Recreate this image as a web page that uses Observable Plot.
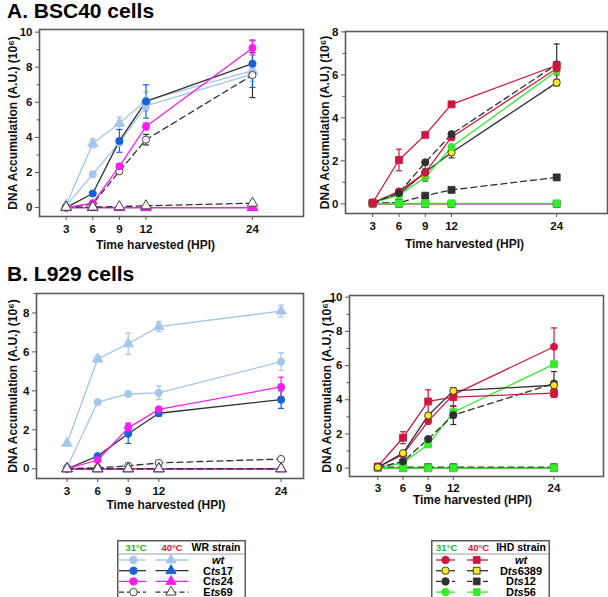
<!DOCTYPE html>
<html><head><meta charset="utf-8">
<script src="https://cdn.jsdelivr.net/npm/d3@7"></script>
<script src="https://cdn.jsdelivr.net/npm/@observablehq/plot@0.6"></script>
<style>
body{margin:0;background:#fff;font-family:"Liberation Sans",Arial,sans-serif;}
#root{position:relative;width:608px;height:597px;overflow:hidden;}
.title{position:absolute;font-weight:bold;font-size:21px;line-height:21px;color:#000;white-space:nowrap;}
</style></head><body><div id="root"></div>
<script>
// ---------- data ----------
const hours = [3, 6, 9, 12, 24];
const xTicks = [3, 6, 9, 12, 24];

// A. BSC40 cells — WR strain
const bscWR_wt31 = [0.1, 1.9, 3.7, 5.8, 7.6];
const bscWR_wt31_err = [0, 0.1, 0.15, 0.3, 0.4];
const bscWR_wt40 = [0.15, 3.65, 4.8, 6.1, 7.8];
const bscWR_wt40_err = [0, 0.25, 0.35, 0.5, 0.3];
const bscWR_Cts17_31 = [0, 0.8, 3.8, 6.05, 8.2];
const bscWR_Cts17_31_err = [0, 0.05, 0.65, 0.95, 1.35];
const bscWR_Cts17_40 = [0, 0, 0, 0, 0];
const bscWR_Cts24_31 = [0, 0.25, 2.35, 4.62, 9.1];
const bscWR_Cts24_31_err = [0, 0.05, 0.15, 0.2, 0.4];
const bscWR_Cts24_40 = [0, 0, 0, 0, 0];
const bscWR_Ets69_31 = [0, 0.2, 2.07, 3.87, 7.55];
const bscWR_Ets69_31_err = [0, 0, 0.1, 0.3, 1.28];
const bscWR_Ets69_40 = [0.02, 0.03, 0.05, 0.1, 0.25];

// A. BSC40 cells — IHD strain
const bscIHD_wt31 = [0.05, 0.58, 1.45, 3.1, 6.3];
const bscIHD_wt31_err = [0, 0.05, 0.4, 0.15, 0.3];
const bscIHD_wt40 = [0.05, 2.04, 3.21, 4.63, 6.45];
const bscIHD_wt40_err = [0, 0.5, 0.05, 0.05, 0.1];
const bscIHD_D6389_31 = [0.05, 0.45, 1.47, 2.39, 5.64];
const bscIHD_D6389_31_err = [0, 0.05, 0.15, 0.25, 0.15];
const bscIHD_D6389_40 = [0, 0, 0, 0, 0];
const bscIHD_Dts12_31 = [0.05, 0.5, 1.93, 3.24, 6.49];
const bscIHD_Dts12_31_err = [0, 0, 0.1, 0.1, 0.95];
const bscIHD_Dts12_40 = [0.05, 0.05, 0.38, 0.65, 1.23];
const bscIHD_Dts12_40_err = [0, 0, 0, 0, 0.1];
const bscIHD_Dts56_31 = [0.05, 0.4, 1.23, 2.65, 6.18];
const bscIHD_Dts56_40 = [0.02, 0.02, 0.02, 0.02, 0.02];

// B. L929 cells — WR strain
const lWR_wt31 = [0.08, 3.42, 3.84, 3.9, 5.5];
const lWR_wt31_err = [0, 0.1, 0.1, 0.35, 0.45];
const lWR_wt40 = [1.31, 5.64, 6.42, 7.3, 8.1];
const lWR_wt40_err = [0.1, 0.15, 0.55, 0.25, 0.3];
const lWR_Cts17_31 = [0, 0.65, 1.8, 2.85, 3.55];
const lWR_Cts17_31_err = [0, 0.05, 0.5, 0.15, 0.45];
const lWR_Cts17_40 = [0, 0, 0, 0, 0];
const lWR_Cts24_31 = [0, 0.45, 2.1, 3.05, 4.2];
const lWR_Cts24_31_err = [0, 0.05, 0.25, 0.1, 0.5];
const lWR_Cts24_40 = [0, 0, 0, 0, 0];
const lWR_Ets69_31 = [0, 0.05, 0.15, 0.3, 0.5];
const lWR_Ets69_40 = [0, 0, 0, 0, 0];

// B. L929 cells — IHD strain
const lIHD_wt31 = [0.05, 0.8, 2.75, 4.3, 7.1];
const lIHD_wt31_err = [0, 0.05, 0.15, 0.3, 1.1];
const lIHD_wt40 = [0.1, 1.78, 3.9, 4.15, 4.39];
const lIHD_wt40_err = [0, 0.35, 0.68, 0.55, 0.25];
const lIHD_D6389_31 = [0.05, 0.88, 3.08, 4.52, 4.85];
const lIHD_D6389_31_err = [0, 0.05, 0.1, 0.15, 0.1];
const lIHD_D6389_40 = [0, 0, 0, 0, 0];
const lIHD_Dts12_31 = [0.05, 0.39, 1.7, 3.1, 4.95];
const lIHD_Dts12_31_err = [0, 0, 0.1, 0.55, 0.7];
const lIHD_Dts12_40 = [0.05, 0.05, 0.05, 0.05, 0.05];
const lIHD_Dts12_40_err = [0, 0, 0, 0, 0.05];
const lIHD_Dts56_31 = [0.05, 0.3, 1.39, 3.27, 6.08];
const lIHD_Dts56_40 = [0, 0, 0, 0, 0];

// ---------- styles ----------
const LB = "#a3c6e9", BLUE = "#1763d6", MAG = "#fb1cf0", RED = "#d0173f",
      GRN = "#36ea2c", YEL = "#fbe91e", DK = "#303030";
const DASH = "6,4";
const WR = {
  wt31:    {symbol: "circle",   fill: LB,    mstroke: LB,  line: LB,  dash: null, err: LB},
  wt40:    {symbol: "triangle", fill: LB,    mstroke: LB,  line: LB,  dash: null, err: LB},
  Cts17_31:{symbol: "circle",   fill: BLUE,  mstroke: BLUE, line: DK, dash: null, err: BLUE},
  Cts17_40:{symbol: "triangle", fill: BLUE,  mstroke: BLUE, line: DK, dash: null, err: BLUE},
  Cts24_31:{symbol: "circle",   fill: MAG,   mstroke: MAG, line: MAG, dash: null, err: MAG},
  Cts24_40:{symbol: "triangle", fill: MAG,   mstroke: MAG, line: MAG, dash: null, err: MAG},
  Ets69_31:{symbol: "circle",   fill: "#fff", mstroke: DK, line: DK,  dash: DASH, err: DK},
  Ets69_40:{symbol: "triangle", fill: "#fff", mstroke: DK, line: DK,  dash: DASH, err: DK}
};
const IHD = {
  wt31:    {symbol: "circle", fill: RED, mstroke: RED, line: RED, dash: null, err: RED},
  wt40:    {symbol: "square", fill: RED, mstroke: RED, line: RED, dash: null, err: RED},
  D6389_31:{symbol: "circle", fill: YEL, mstroke: DK,  line: DK,  dash: null, err: DK},
  D6389_40:{symbol: "square", fill: YEL, mstroke: DK,  line: DK,  dash: null, err: DK},
  Dts12_31:{symbol: "circle", fill: DK,  mstroke: DK,  line: DK,  dash: DASH, err: DK},
  Dts12_40:{symbol: "square", fill: DK,  mstroke: DK,  line: DK,  dash: DASH, err: DK},
  Dts56_31:{symbol: "circle", fill: GRN, mstroke: GRN, line: GRN, dash: null, err: GRN},
  Dts56_31sq:{symbol: "square", fill: GRN, mstroke: GRN, line: GRN, dash: null, err: GRN},
  Dts56_40:{symbol: "square", fill: GRN, mstroke: GRN, line: GRN, dash: null, err: GRN}
};

const capSymbol = {draw(ctx) { ctx.moveTo(-3, 0); ctx.lineTo(3, 0); }};
const root = document.getElementById("root");
const FONT = "'Liberation Sans', Arial, Helvetica, sans-serif";
const YLABEL = "DNA Accumulation (A.U.) (10\u2076)";
const XLABEL = "Time harvested (HPI)";

function panel(spec) {
  const [L, T, R, B] = spec.frame;
  const mL = 48, mT = 6, mR = 4, mB = 48;
  const marks = [];
  for (const s of spec.series) {
    const st = spec.styles[s.style];
    const data = hours.map((h, i) => ({x: h, y: s.v[i], e: s.e ? s.e[i] : 0}));
    marks.push(Plot.line(data, {x: "x", y: "y", stroke: st.line, strokeWidth: 1.3, strokeDasharray: st.dash}));
  }
  for (const s of spec.series) {
    const st = spec.styles[s.style];
    const data = hours.map((h, i) => ({x: h, y: s.v[i], e: s.e ? s.e[i] : 0})).filter(d => d.e > 0);
    marks.push(Plot.ruleX(data, {x: "x", y1: d => d.y - d.e, y2: d => d.y + d.e, stroke: st.err, strokeWidth: 1.2}));
    marks.push(Plot.dot(data, {x: "x", y: d => d.y + d.e, symbol: capSymbol, fill: "none", stroke: st.err, strokeWidth: 1.2}));
    marks.push(Plot.dot(data, {x: "x", y: d => d.y - d.e, symbol: capSymbol, fill: "none", stroke: st.err, strokeWidth: 1.2}));
  }
  for (const s of spec.series) {
    const st = spec.styles[s.style];
    const data = hours.map((h, i) => ({x: h, y: s.v[i]}));
    marks.push(Plot.dot(data, {x: "x", y: "y", symbol: st.symbol, r: st.symbol === "circle" ? 3.6 : 3.9,
      fill: st.fill, stroke: st.mstroke, strokeWidth: 0.9}));
  }
  marks.push(Plot.axisY({ticks: spec.yMinor, tickSize: 2.5, tickFormat: () => "", label: null, labelArrow: "none", stroke: "#555"}));
  marks.push(Plot.axisY({ticks: spec.yTicks, tickSize: 4, tickPadding: 3, label: null, labelArrow: "none", fontSize: 11.5, stroke: "#555"}));
  marks.push(Plot.axisY({ticks: [], label: YLABEL, labelArrow: "none", labelAnchor: "center", labelOffset: spec.yLabelOffset, fontSize: 12}));
  marks.push(Plot.axisX({ticks: xTicks, tickSize: 4, tickPadding: spec.xTickPad ?? 4, label: null, labelArrow: "none", fontSize: 11.5, stroke: "#555"}));
  marks.push(Plot.text([XLABEL], {text: d => d, frameAnchor: "bottom", dx: spec.xLabelDx, dy: spec.xLabelDy,
    fontSize: 12, fontWeight: "bold", fill: "#111"}));
  marks.push(Plot.frame({stroke: "#5a5a5a", strokeWidth: 1.6}));
  const svg = Plot.plot({
    width: mL + (R - L) + mR, height: mT + (B - T) + mB,
    marginLeft: mL, marginTop: mT, marginRight: mR, marginBottom: mB,
    x: {domain: spec.xDomain, label: null}, y: {domain: spec.yDomain, label: null},
    style: {fontFamily: FONT, fontWeight: "bold", color: "#111", background: "transparent", overflow: "visible"},
    marks
  });
  svg.style.position = "absolute";
  svg.style.left = (L - mL) + "px";
  svg.style.top = (T - mT) + "px";
  root.appendChild(svg);
}

panel({
  frame: [39, 29, 303, 216], xDomain: [0, 29.75], yDomain: [-0.51, 10.15],
  yTicks: [0, 2, 4, 6, 8, 10], yMinor: [1, 3, 5, 7, 9], yLabelOffset: 31, xLabelDx: -16, xLabelDy: 32, styles: WR,
  series: [
    {style: "wt31", v: bscWR_wt31, e: bscWR_wt31_err},
    {style: "wt40", v: bscWR_wt40, e: bscWR_wt40_err},
    {style: "Ets69_31", v: bscWR_Ets69_31, e: bscWR_Ets69_31_err},
    {style: "Cts17_31", v: bscWR_Cts17_31, e: bscWR_Cts17_31_err},
    {style: "Cts24_31", v: bscWR_Cts24_31, e: bscWR_Cts24_31_err},
    {style: "Cts17_40", v: bscWR_Cts17_40},
    {style: "Cts24_40", v: bscWR_Cts24_40},
    {style: "Ets69_40", v: bscWR_Ets69_40}
  ]
});
panel({
  frame: [345, 31, 607, 213], xDomain: [-0.1, 29.8], yDomain: [-0.45, 8.02],
  yTicks: [0, 2, 4, 6, 8], yMinor: [1, 3, 5, 7], yLabelOffset: 25, xLabelDx: -12, xLabelDy: 34, styles: IHD,
  series: [
    {style: "Dts12_40", v: bscIHD_Dts12_40, e: bscIHD_Dts12_40_err},
    {style: "D6389_40", v: bscIHD_D6389_40},
    {style: "Dts56_40", v: bscIHD_Dts56_40},
    {style: "D6389_31", v: bscIHD_D6389_31, e: bscIHD_D6389_31_err},
    {style: "Dts56_31", v: bscIHD_Dts56_31},
    {style: "wt31", v: bscIHD_wt31, e: bscIHD_wt31_err},
    {style: "Dts12_31", v: bscIHD_Dts12_31, e: bscIHD_Dts12_31_err},
    {style: "wt40", v: bscIHD_wt40, e: bscIHD_wt40_err}
  ]
});
panel({
  frame: [36, 293, 303, 478], xDomain: [0, 26.2], yDomain: [-0.5, 9],
  yTicks: [0, 2, 4, 6, 8], yMinor: [1, 3, 5, 7, 9], yLabelOffset: 28, xLabelDx: -4, xLabelDy: 30, styles: WR,
  series: [
    {style: "wt31", v: lWR_wt31, e: lWR_wt31_err},
    {style: "wt40", v: lWR_wt40, e: lWR_wt40_err},
    {style: "Ets69_31", v: lWR_Ets69_31},
    {style: "Cts17_31", v: lWR_Cts17_31, e: lWR_Cts17_31_err},
    {style: "Cts24_31", v: lWR_Cts24_31, e: lWR_Cts24_31_err},
    {style: "Cts17_40", v: lWR_Cts17_40},
    {style: "Cts24_40", v: lWR_Cts24_40},
    {style: "Ets69_40", v: lWR_Ets69_40}
  ]
});
panel({
  frame: [349, 295, 603, 476], xDomain: [-0.38, 29.9], yDomain: [-0.49, 10.1],
  yTicks: [0, 2, 4, 6, 8, 10], yMinor: [1, 3, 5, 7, 9], yLabelOffset: 27, xLabelDx: -4, xLabelDy: 27.5, xTickPad: 3, styles: IHD,
  series: [
    {style: "Dts12_40", v: lIHD_Dts12_40, e: lIHD_Dts12_40_err},
    {style: "D6389_40", v: lIHD_D6389_40},
    {style: "Dts56_40", v: lIHD_Dts56_40},
    {style: "Dts56_31sq", v: lIHD_Dts56_31},
    {style: "Dts12_31", v: lIHD_Dts12_31, e: lIHD_Dts12_31_err},
    {style: "wt31", v: lIHD_wt31, e: lIHD_wt31_err},
    {style: "wt40", v: lIHD_wt40, e: lIHD_wt40_err},
    {style: "D6389_31", v: lIHD_D6389_31, e: lIHD_D6389_31_err}
  ]
});

// ---------- titles ----------
function title(text, x, y) {
  const d = document.createElement("div");
  d.className = "title"; d.textContent = text;
  d.style.left = x + "px"; d.style.top = y + "px";
  root.appendChild(d);
}
title("A. BSC40 cells", 7, 0);
title("B. L929 cells", 7, 263);

// ---------- legends ----------
const wrLegendRows = [
  {name: [["wt", true]], c31: "wt31", c40: "wt40"},
  {name: [["C", false], ["ts", true], ["17", false]], c31: "Cts17_31", c40: "Cts17_40"},
  {name: [["C", false], ["ts", true], ["24", false]], c31: "Cts24_31", c40: "Cts24_40"},
  {name: [["E", false], ["ts", true], ["69", false]], c31: "Ets69_31", c40: "Ets69_40"}
];
const ihdLegendRows = [
  {name: [["wt", true]], c31: "wt31", c40: "wt40"},
  {name: [["D", false], ["ts", true], ["6389", false]], c31: "D6389_31", c40: "D6389_40"},
  {name: [["D", false], ["ts", true], ["12", false]], c31: "Dts12_31", c40: "Dts12_40"},
  {name: [["D", false], ["ts", true], ["56", false]], c31: "Dts56_31", c40: "Dts56_40"}
];
const symMap = {circle: d3.symbolCircle, square: d3.symbolSquare, triangle: d3.symbolTriangle};

function legend(o) {
  const svg = d3.create("svg").attr("width", o.w).attr("height", o.h)
    .style("position", "absolute").style("left", o.x + "px").style("top", o.y + "px")
    .style("font-family", FONT).style("font-weight", "bold").style("font-size", "10.5px");
  svg.append("rect").attr("x", 0.75).attr("y", 0.75).attr("width", o.w - 1.5).attr("height", o.h - 1.5)
    .attr("fill", "#fff").attr("stroke", "#5a5a5a").attr("stroke-width", 1.5);
  const hy = 11;
  svg.append("text").attr("x", o.h31).attr("y", hy).attr("text-anchor", "middle").attr("fill", "#22b522").style("font-size", "9.5px").text("31\u00b0C");
  svg.append("text").attr("x", o.h40).attr("y", hy).attr("text-anchor", "middle").attr("fill", "#d8163a").style("font-size", "9.5px").text("40\u00b0C");
  svg.append("text").attr("x", o.hName).attr("y", hy).attr("text-anchor", "middle").attr("fill", "#000").text(o.header);
  svg.append("line").attr("x1", 1).attr("x2", o.w - 1).attr("y1", 14).attr("y2", 14).attr("stroke", "#888").attr("stroke-width", 0.8);
  o.rows.forEach((r, i) => {
    const cy = 20 + i * 10.7;
    for (const [key, c] of [[r.c31, o.col31], [r.c40, o.col40]]) {
      const st = o.styles[key];
      svg.append("line").attr("x1", c[0]).attr("x2", c[2]).attr("y1", cy).attr("y2", cy)
        .attr("stroke", st.line).attr("stroke-width", 1.3).attr("stroke-dasharray", st.dash ? "5,3" : null);
      const size = st.symbol === "circle" ? 44 : 46;
      svg.append("path").attr("d", d3.symbol(symMap[st.symbol], size)())
        .attr("transform", `translate(${c[1]},${cy})`).attr("fill", st.fill).attr("stroke", st.mstroke).attr("stroke-width", 0.9);
    }
    const t = svg.append("text").attr("x", o.nameX).attr("y", cy + 4).attr("text-anchor", "middle").attr("fill", "#000").style("font-size", "11px");
    for (const [s, it] of r.name) t.append("tspan").style("font-style", it ? "italic" : "normal").text(s);
  });
  root.appendChild(svg.node());
}
legend({x: 117, y: 540, w: 129, h: 62, header: "WR strain", h31: 19, h40: 55, hName: 99,
  col31: [2, 16.5, 29], col40: [38.5, 54, 71.5], nameX: 101, rows: wrLegendRows, styles: WR});
legend({x: 431, y: 540, w: 119, h: 62, header: "IHD strain", h31: 15.7, h40: 47.6, hName: 90,
  col31: [5, 14.5, 24], col40: [36, 45.7, 57], nameX: 90, rows: ihdLegendRows, styles: IHD});
</script>
</body></html>
